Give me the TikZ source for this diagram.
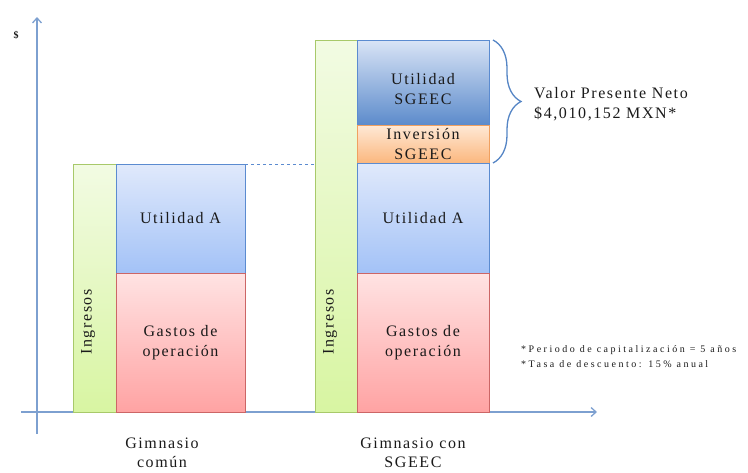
\documentclass[tikz,border=0pt]{standalone}
\usepackage{fontspec}
\setmainfont{Liberation Serif}
\newfontfamily\lblfont{Liberation Serif}[LetterSpace=10]
\newfontfamily\notefont{Liberation Serif}[LetterSpace=25]
\usetikzlibrary{arrows.meta,decorations.pathreplacing}
\definecolor{txt}{HTML}{1A1A1A}
\definecolor{axisc}{HTML}{7DA0D0}
\definecolor{gtop}{HTML}{F2FBE3}\definecolor{gbot}{HTML}{D8F5A2}\definecolor{gbrd}{HTML}{A8C96A}
\definecolor{btop}{HTML}{E0E9FB}\definecolor{bbot}{HTML}{A3C2F7}\definecolor{bbrd}{HTML}{5B8BD0}
\definecolor{rtop}{HTML}{FFE3E3}\definecolor{rbot}{HTML}{FFA3A3}\definecolor{rbrd}{HTML}{CC6666}
\definecolor{dtop}{HTML}{D9E4F6}\definecolor{dbot}{HTML}{5C8BCB}
\definecolor{otop}{HTML}{FFE9D6}\definecolor{obot}{HTML}{FBB77E}\definecolor{obrd}{HTML}{F0A060}
\definecolor{bracec}{HTML}{5585C5}
\begin{document}
\begin{tikzpicture}[x=1pt,y=-1pt,
  box/.style={draw,line width=0.8pt,anchor=north west,inner sep=0pt,outer sep=0pt,
    text=txt,font=\lblfont\fontsize{16}{20}\selectfont,align=center},
  greenbox/.style={box,draw=gbrd,top color=gtop,bottom color=gbot},
  bluebox/.style={box,draw=bbrd,top color=btop,bottom color=bbot},
  redbox/.style={box,draw=rbrd,top color=rtop,bottom color=rbot},
  darkbox/.style={box,draw=bbrd,top color=dtop,bottom color=dbot},
  orangebox/.style={box,draw=obrd,top color=otop,bottom color=obot},
  lbl/.style={text=txt,font=\lblfont\fontsize{16}{20}\selectfont,align=center,inner sep=0pt},
  note/.style={text=txt,font=\notefont\fontsize{10}{14}\selectfont,align=left,inner sep=0pt,anchor=west},
  axis/.style={draw=axisc,line width=1.3pt,-{Straight Barb[length=5pt,width=9pt]}}]
\useasboundingbox (0,0) rectangle (748,472);
% axes
\coordinate (yb) at (37,434);
\coordinate (yt) at (37,17);
\coordinate (xl) at (21,412);
\coordinate (xr) at (597,412);
\draw[axis] (yb) -- (yt);
\draw[axis] (xl) -- (xr);
\node[text=txt,font=\fontsize{10}{12}\selectfont\bfseries,inner sep=0pt] (dollar) at (16,35) {\$};
% bar 1
\node[greenbox,minimum width=43pt,minimum height=248pt] (g1) at (73,164) {};
\node[bluebox,minimum width=129pt,minimum height=109pt] (ua1) at (116,164) {Utilidad A};
\node[redbox,minimum width=129pt,minimum height=139pt] (go1) at (116,273) {Gastos de\\operación};
\node[lbl,rotate=90] (in1) at (88,322) {Ingresos};
% bar 2
\node[greenbox,minimum width=42pt,minimum height=372pt] (g2) at (315,40) {};
\node[darkbox,minimum width=132pt,minimum height=85pt] (us2) at (357,40) {};
\node[lbl] (ust) at (423,89) {Utilidad\\SGEEC};
\node[orangebox,minimum width=132pt,minimum height=38pt] (inv2) at (357,125) {Inversión\\SGEEC};
\node[bluebox,minimum width=132pt,minimum height=110pt] (ua2) at (357,163) {Utilidad A};
\node[redbox,minimum width=132pt,minimum height=139pt] (go2) at (357,273) {Gastos de\\operación};
\node[lbl,rotate=90] (in2) at (330,322) {Ingresos};
% dashed link
\draw[bbrd,dashed,line width=1pt] (ua1.north east) -- (g2.west |- ua1.north east);
% brace
\coordinate (bt) at (493,40);
\coordinate (bb) at (493,163);
\draw[bracec,line width=1.3pt,decorate,decoration={brace,amplitude=28pt,aspect=0.5}] (bt) -- (bb);
\node[lbl,anchor=west,align=left] (vpn) at (534,104) {Valor Presente Neto\\\$4,010,152 MXN*};
% footnotes
\node[note] (n1) at (521,350) {*Periodo de capitalización = 5 años};
\node[note] (n2) at (521,364) {*Tasa de descuento: 15\% anual};
% category labels
\node[lbl,font=\lblfont\fontsize{16}{18.5}\selectfont] (c1) at (162,453) {Gimnasio\\común};
\node[lbl,font=\lblfont\fontsize{16}{18.5}\selectfont] (c2) at (413,453) {Gimnasio con\\SGEEC};
\end{tikzpicture}
\end{document}
